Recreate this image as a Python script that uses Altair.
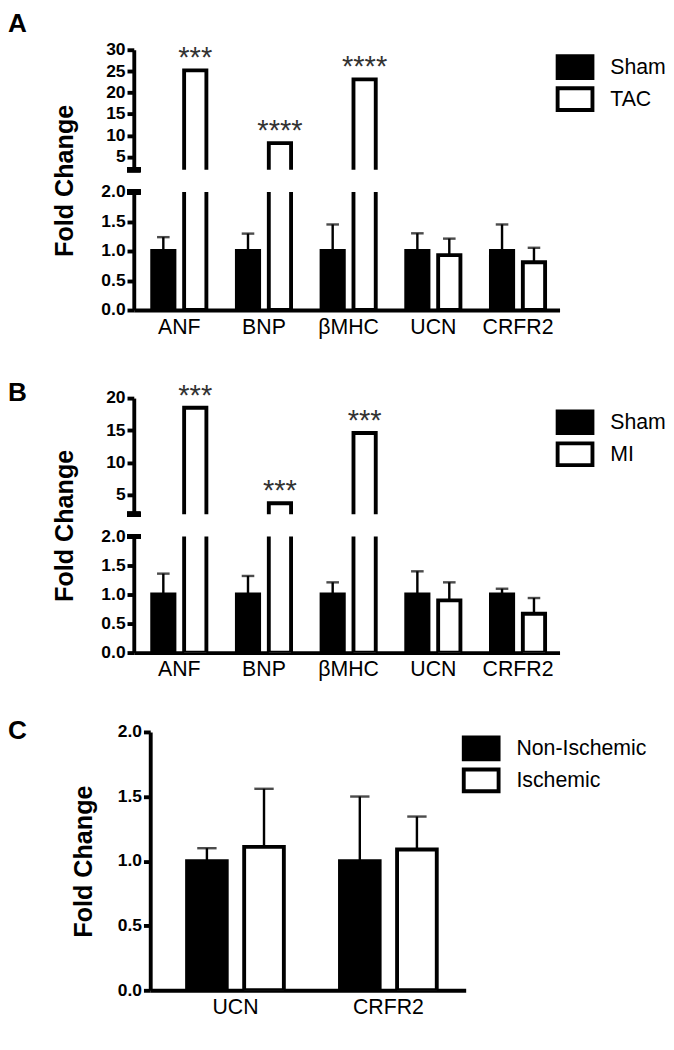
import altair as alt
import pandas as pd

FONT = "Liberation Sans"

genes = ["ANF", "BNP", "βMHC", "UCN", "CRFR2"]

# Panel A: Sham vs TAC
a_groups = ["Sham", "TAC"]
a_sham = [1.0, 1.0, 1.0, 1.0, 1.0]
a_sham_err = [1.235, 1.295, 1.45, 1.30, 1.45]
a_tac = [25.2, 8.2, 23.1, 0.93, 0.81]
a_tac_err = [None, None, None, 1.21, 1.055]
a_stars = ["***", "****", "****", "", ""]
a_upper_ticks = [5, 10, 15, 20, 25, 30]

# Panel B: Sham vs MI
b_groups = ["Sham", "MI"]
b_sham = [1.0, 1.0, 1.0, 1.0, 1.0]
b_sham_err = [1.36, 1.32, 1.21, 1.40, 1.10]
b_mi = [18.5, 3.7, 14.6, 0.90, 0.67]
b_mi_err = [None, None, None, 1.21, 0.94]
b_stars = ["***", "***", "***", "", ""]
b_upper_ticks = [5, 10, 15, 20]

# Panel C: Non-Ischemic vs Ischemic
c_genes = ["UCN", "CRFR2"]
c_groups = ["Non-Ischemic", "Ischemic"]
c_non = [1.0, 1.0]
c_non_err = [1.10, 1.50]
c_isch = [1.11, 1.09]
c_isch_err = [1.56, 1.345]

lower_ticks = [0, 0.5, 1.0, 1.5, 2.0]

RECT = "M-3.2,-2H3.2V2H-3.2Z"


def make_df(cats, groups, v1, e1, v2, e2, stars=None):
    rows = []
    for i, c in enumerate(cats):
        rows.append({"gene": c, "group": groups[0], "value": v1[i], "top": e1[i], "star": ""})
        rows.append({"gene": c, "group": groups[1], "value": v2[i], "top": e2[i],
                     "star": stars[i] if stars else ""})
    return pd.DataFrame(rows)


def xenc(cats, pi, po, align, axis, rng=None):
    sc = dict(domain=cats, paddingInner=pi, paddingOuter=po, align=align)
    if rng is not None:
        sc["range"] = rng
    return alt.X("gene:N", sort=cats, scale=alt.Scale(**sc), axis=axis)


def xoff(groups, p):
    return alt.XOffset("group:N", sort=groups,
                       scale=alt.Scale(domain=groups, paddingInner=p, paddingOuter=0))


def fill_enc(groups, legend_xy):
    if legend_xy is None:
        leg = None
    else:
        leg = alt.Legend(title=None, orient="none", legendX=legend_xy[0], legendY=legend_xy[1],
                         symbolType=RECT, symbolSize=126.6, symbolStrokeColor="black",
                         symbolStrokeWidth=4, labelFont=FONT, labelFontSize=22,
                         labelColor="black", labelOffset=25.4, rowPadding=-7, padding=0,
                         labelLimit=300)
    return alt.Fill("group:N", sort=groups,
                    scale=alt.Scale(domain=groups, range=["black", "white"]), legend=leg)


def panel_label(text, y):
    return alt.Chart(pd.DataFrame({"t": [text]})).mark_text(
        font=FONT, fontSize=27, fontWeight="bold", align="left", baseline="alphabetic",
        color="black").encode(text="t:N", x=alt.value(-130), y=alt.value(y))


def upper_section(df, groups, domain, ticks, height, rng, legend_xy, label, label_y):
    base = alt.Chart(df)
    ysc = dict(domain=domain, nice=False, zero=False)
    if rng is not None:
        ysc["range"] = rng
    y = alt.Y("value:Q", scale=alt.Scale(**ysc),
              axis=alt.Axis(values=ticks, tickCount=50, format="d", title=None,
                            labelOverlap=False))
    x = xenc(genes, 0.36, 0.194, 0.56, None)
    xo = xoff(groups, 0.303)
    bars = base.mark_bar(stroke="black", strokeWidth=4, clip=True).encode(
        x=x, xOffset=xo, y=y, y2=alt.datum(0), fill=fill_enc(groups, legend_xy))
    stars = base.transform_filter("datum.star != ''").mark_text(
        font=FONT, fontSize=30, color="#333333", baseline="alphabetic", dy=-3).encode(
        x=x, xOffset=xo, y=alt.Y("value:Q"), text="star:N")
    brk = base.mark_rule(color="black", strokeWidth=5).encode(
        x=alt.value(-7), x2=alt.value(7), y=alt.datum(domain[0]))
    return alt.layer(bars, stars, brk, panel_label(label, label_y)).properties(
        width=440, height=height)


def lower_section(df, cats, groups, width, height, rng, x_range, xpad, off_p, cap,
                  title_xy, axis_offset=0, legend_xy=None, label=None, label_y=0,
                  stub=True):
    base = alt.Chart(df)
    ysc = dict(domain=[0, 2], nice=False, zero=False)
    if rng is not None:
        ysc["range"] = rng
    yaxis = alt.Axis(values=lower_ticks, tickCount=50, format=".1f", title="Fold Change",
                     titleX=title_xy[0], titleY=title_xy[1], titleAngle=270,
                     titleAlign="center", titleBaseline="middle", titleFont=FONT,
                     titleFontSize=26, titleFontWeight="bold", offset=axis_offset,
                     labelOverlap=False)
    y = alt.Y("value:Q", scale=alt.Scale(**ysc), axis=yaxis)
    xaxis = alt.Axis(title=None, ticks=False, labelAngle=0, labelFontSize=22,
                     labelFontWeight="normal", labelPadding=7)
    x = xenc(cats, xpad[0], xpad[1], xpad[2], xaxis, x_range)
    xo = xoff(groups, off_p)
    bars = base.mark_bar(stroke="black", strokeWidth=4, clip=True).encode(
        x=x, xOffset=xo, y=y, y2=alt.datum(0), fill=fill_enc(groups, legend_xy))
    errs = base.transform_filter("isValid(datum.top)")
    err_line = errs.mark_rule(color="black", strokeWidth=2.5).encode(
        x=x, xOffset=xo, y=alt.Y("value:Q"), y2=alt.Y2("top:Q"))
    err_cap = errs.mark_tick(color="black", thickness=2.5, size=cap, orient="horizontal").encode(
        x=x, xOffset=xo, y=alt.Y("top:Q"))
    layers = [bars, err_line, err_cap]
    if stub:
        layers.append(base.mark_rule(color="black", strokeWidth=5).encode(
            x=alt.value(-7), x2=alt.value(7), y=alt.datum(2)))
    if label is not None:
        layers.append(panel_label(label, label_y))
    return alt.layer(*layers).properties(width=width, height=height)


df_a = make_df(genes, a_groups, a_sham, a_sham_err, a_tac, a_tac_err, a_stars)
df_b = make_df(genes, b_groups, b_sham, b_sham_err, b_mi, b_mi_err, b_stars)
df_c = make_df(c_genes, c_groups, c_non, c_non_err, c_isch, c_isch_err)

a_up = upper_section(df_a, a_groups, [2, 30], a_upper_ticks, 124, None, (445, 7), "A", -18)
a_low = lower_section(df_a, genes, a_groups, 440, 122, None, None, (0.36, 0.194, 0.56),
                      0.303, 13, (-71, -12))
b_up = upper_section(df_b, b_groups, [2, 20], b_upper_ticks, 188, [188, 68], (445, 82), "B", 71)
b_low = lower_section(df_b, genes, b_groups, 440, 120, None, None, (0.36, 0.194, 0.56),
                      0.303, 13, (-71, -11.5))
c_chart = lower_section(df_c, c_genes, c_groups, 343, 326, [326, 59], [17, 343],
                        (0.367, 0.215, 0.56), 0.305, 20, (-69, 192.5), axis_offset=-17,
                        legend_xy=(348, 65), label="C", label_y=66, stub=False)

chart = alt.vconcat(a_up, a_low, b_up, b_low, c_chart, spacing=23, bounds="flush").resolve_scale(
    fill="independent", xOffset="independent", x="independent", y="independent"
).resolve_legend(fill="independent").properties(
    padding={"top": -14, "left": 0, "right": 0, "bottom": 0}
).configure(font=FONT).configure_axis(
    domainColor="black", domainWidth=4, tickColor="black", tickWidth=4, tickSize=7,
    labelColor="black", labelFont=FONT, labelFontSize=18, labelFontWeight="bold",
    labelPadding=2, grid=False, titleColor="black"
).configure_view(stroke=None)

chart.save("out.html", embed_options={"renderer": "svg", "actions": False})
